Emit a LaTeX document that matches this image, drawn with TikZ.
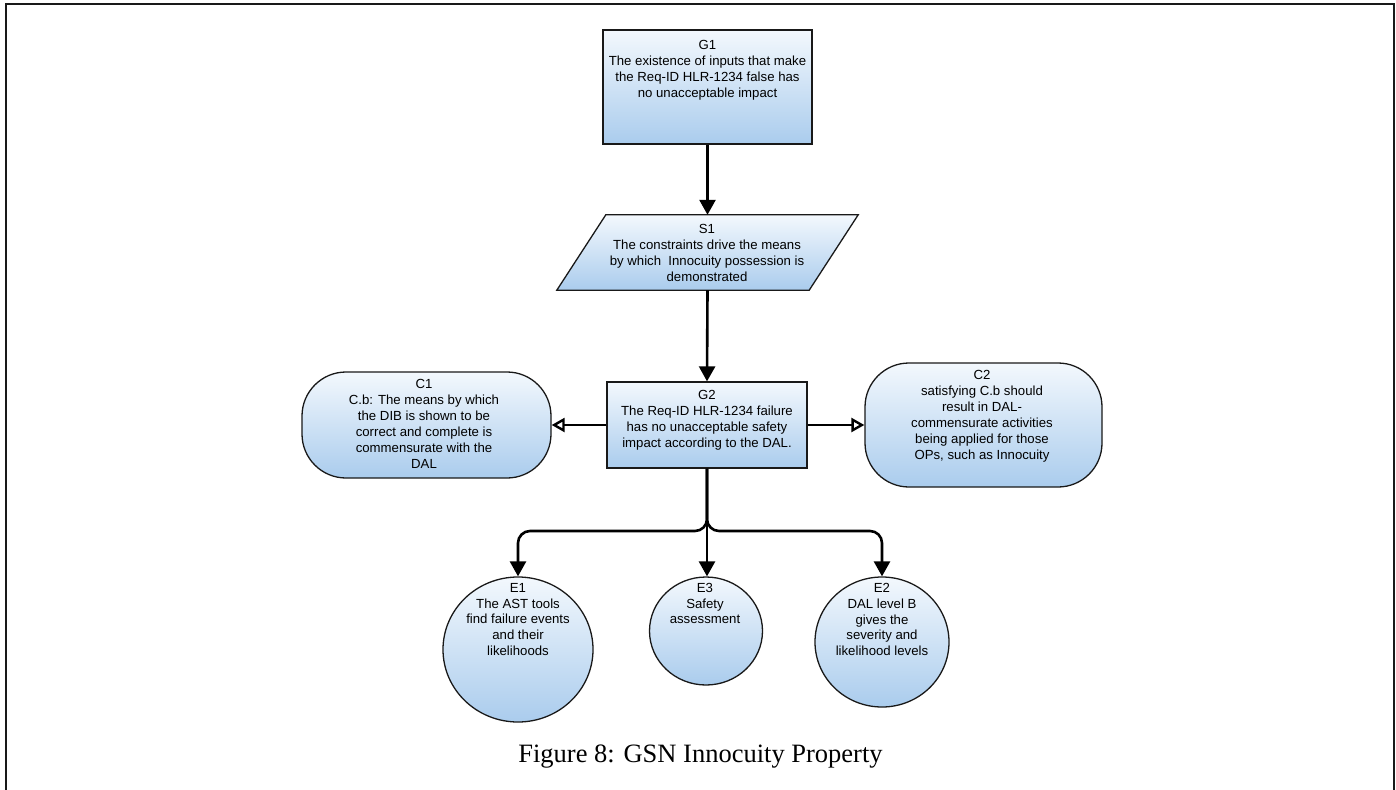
\documentclass[tikz,border=0pt]{standalone}
\usepackage{fontspec}
\setmainfont{Liberation Sans}
\newfontfamily\capfont{Liberation Serif}
\usetikzlibrary{arrows.meta,shapes.geometric,calc}
\definecolor{fillTop}{RGB}{243,248,253}
\definecolor{fillBot}{RGB}{170,204,237}
\definecolor{edge}{RGB}{25,25,25}
\tikzset{
  gsnbox/.style={draw=edge, line width=1.3pt, top color=fillTop, bottom color=fillBot, inner sep=0pt},
  gsngoal/.style={gsnbox, rectangle},
  gsnctx/.style={gsnbox, rectangle, rounded corners=44pt},
  gsnev/.style={gsnbox, ellipse},
  gsntext/.style={align=center, font=\fontsize{13.2}{15.9}\selectfont, inner sep=0pt},
  conn/.style={line width=2.6pt, draw=black, -{Triangle[width=16pt,length=15pt]}},
  ctxconn/.style={line width=2.6pt, draw=black, -{Triangle[open,width=14pt,length=13pt,line width=2.4pt]}},
}
\begin{document}
\begin{tikzpicture}[x=1pt,y=-1pt]
\useasboundingbox (0,0) rectangle (1396,789);
\clip (0,0) rectangle (1396,789);
% outer frame
\draw[line width=2pt, edge] (5.5,800) -- (5.5,4.5) -- (1394,4.5) -- (1394,800);

% goals
\node[gsngoal, minimum width=209pt, minimum height=114pt] (G1) at (707.5,87) {};
\node[gsntext] (G1t) at (707.5,70) {G1\\The existence of inputs that make\\the Req-ID HLR-1234 false has\\no unacceptable impact};

% strategy (parallelogram drawn over an invisible frame node)
\node[minimum width=301pt, minimum height=75pt, inner sep=0pt] (S1) at (707.5,252.5) {};
\path[gsnbox] ([xshift=49pt]S1.north west) -- (S1.north east) -- ([xshift=-49pt]S1.south east) -- (S1.south west) -- cycle;
\node[gsntext] (S1t) at (707,253) {S1\\The constraints drive the means\\by which\ \ Innocuity possession is\\demonstrated};

\node[gsngoal, minimum width=200pt, minimum height=86pt] (G2) at (707,425) {};
\node[gsntext] (G2t) at (707,420.5) {G2\\The Req-ID HLR-1234 failure\\has no unacceptable safety\\impact according to the DAL.};

% contexts
\node[gsnctx, minimum width=249pt, minimum height=106pt] (C1) at (426.5,425) {};
\node[gsntext] (C1t) at (424,424) {C1\\C.b: The means by which\\the DIB is shown to be\\correct and complete is\\commensurate with the\\DAL};

\node[gsnctx, minimum width=237pt, minimum height=124pt] (C2) at (983.5,425) {};
\node[gsntext] (C2t) at (982,416.5) {C2\\satisfying C.b should\\result in DAL-\\commensurate activities\\being applied for those\\OPs, such as Innocuity};

% evidence
\node[gsnev, minimum width=150pt, minimum height=145pt] (E1) at (518,649.5) {};
\node[gsntext] (E1t) at (518,619.5) {E1\\The AST tools\\find failure events\\and their\\likelihoods};

\node[gsnev, minimum width=113pt, minimum height=108pt] (E3) at (706,631) {};
\node[gsntext] (E3t) at (705,603.5) {E3\\Safety\\assessment};

\node[gsnev, minimum width=134pt, minimum height=130pt] (E2) at (882,642) {};
\node[gsntext] (E2t) at (882,619.5) {E2\\DAL level B\\gives the\\severity and\\likelihood levels};

% connectors
\draw[conn] (G1.south) -- (S1.north);
\draw[conn] (S1.south) -- (G2.north);
\draw[ctxconn] (G2.west) -- (C1.east);
\draw[ctxconn] (G2.east) -- (C2.east -| C2.west);
\coordinate (split) at (707,531);
\draw[conn, rounded corners=12pt] (G2.south) |- (split -| E1.north) -- (E1.north);
\draw[conn, rounded corners=12pt] (G2.south) |- (split -| E2.north) -- (E2.north);
\draw[conn] (G2.south) -- (G2.south |- E3.north);

% caption
\node[anchor=base, inner sep=0pt, font=\capfont\fontsize{26.5}{30}\selectfont] (cap) at (700.5,762) {Figure 8: GSN Innocuity Property};
\end{tikzpicture}
\end{document}
